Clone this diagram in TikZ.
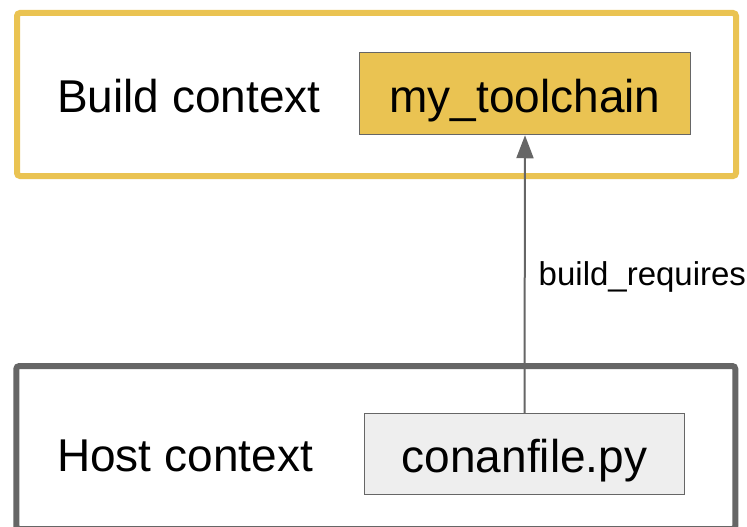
\documentclass[tikz,border=0pt]{standalone}
\usepackage{xcolor}
\usepackage{fontspec}
\setmainfont{Liberation Sans}
\usetikzlibrary{arrows.meta}
\usetikzlibrary{positioning}
\definecolor{tcyellow}{HTML}{EAC352}
\definecolor{tcgray}{HTML}{666666}
\definecolor{tclight}{HTML}{EEEEEE}
\tikzset{
context frame/.style = { rectangle, draw = #1, line width = 6pt, rounded corners = 3pt, minimum width = 719pt, minimum height = 163pt, inner sep = 0pt },
package box/.style = { rectangle, draw = tcgray, fill = #1, line width = 1.5pt, inner sep = 0pt, text height = 40pt, text depth = 3pt, font = \fontsize{46}{55}\selectfont },
context label/.style = { anchor = base west, inner sep = 0pt, font = \fontsize{46}{55}\selectfont },
}
\begin{document}
\begin{tikzpicture}[x = 1pt, y = -1pt]
    \useasboundingbox (0, 0) rectangle (747, 527);
    \node[context frame = tcyellow] (build) at (376.5, 94.5) {};
    \node[context frame = tcgray] (host) at (375.8, 447.5) {};
    \node[context label] (buildlabel) at (57, 112) {Build context};
    \node[context label] (hostlabel) at (57, 471) {Host context};
    \node[package box = tcyellow, minimum width = 331pt, minimum height = 82pt] (toolchain) at (525, 93.5) {my\_toolchain};
    \node[package box = tclight, minimum width = 320pt, minimum height = 81pt] (conanfile) at (524.5, 454) {conanfile.py};
    \draw[tcgray, line width = 2pt, -{Triangle[length = 23pt, width = 17pt]}] (conanfile.north) -- (toolchain.south)
        node[pos = 0.457, anchor = base west, black, inner sep = 0pt, xshift = 13pt, font = \fontsize{33}{40}\selectfont] (buildreq) {build\_requires};
\end{tikzpicture}
\end{document}
